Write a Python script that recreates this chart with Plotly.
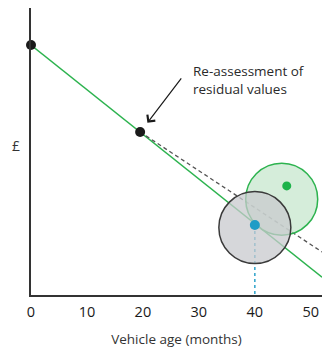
import plotly.graph_objects as go

# Data (arbitrary £ units, vehicle age in months)
planned_age = [0, 52]
planned_value = [87.1, 6.2]
reassessed_age = [19.5, 52]
reassessed_value = [56.8, 15.0]
key_age = [0, 19.5]
key_value = [87.1, 56.8]
estimate_age = [40]
estimate_value = [24.4]
estimate_range_age = [40]
estimate_range_value = [23.5]
market_age = [45.7]
market_value = [38.0]
market_range_age = [44.8]
market_range_value = [33.4]
x_ticks = [0, 10, 20, 30, 40, 50]

FONT = "Open Sans"
GREEN = "#2db34f"

fig = go.Figure()

# planned depreciation line
fig.add_trace(go.Scatter(x=planned_age, y=planned_value, mode="lines",
                         line=dict(color=GREEN, width=1.4), hoverinfo="skip"))
# reassessed line (dashed)
fig.add_trace(go.Scatter(x=reassessed_age, y=reassessed_value, mode="lines",
                         line=dict(color="#555555", width=1.3, dash="4px,3px"), hoverinfo="skip"))
# blue vertical dashed drop line
fig.add_trace(go.Scatter(x=[estimate_age[0], estimate_age[0]], y=[estimate_value[0], 0], mode="lines",
                         line=dict(color="#1f9cc6", width=1.4, dash="3px,3px"), hoverinfo="skip"))
# market value range (green circle)
fig.add_trace(go.Scatter(x=market_range_age, y=market_range_value, mode="markers",
                         marker=dict(size=72, color="rgba(190,228,198,0.65)",
                                     line=dict(color=GREEN, width=1.5)), hoverinfo="skip"))
# estimate range (grey circle)
fig.add_trace(go.Scatter(x=estimate_range_age, y=estimate_range_value, mode="markers",
                         marker=dict(size=72, color="rgba(200,201,205,0.75)",
                                     line=dict(color="#3a3a3a", width=1.5)), hoverinfo="skip"))
# key points
fig.add_trace(go.Scatter(x=key_age, y=key_value, mode="markers", cliponaxis=False,
                         marker=dict(size=10, color="#1a1a1a"), hoverinfo="skip"))
fig.add_trace(go.Scatter(x=market_age, y=market_value, mode="markers",
                         marker=dict(size=9, color="#1db34a"), hoverinfo="skip"))
fig.add_trace(go.Scatter(x=estimate_age, y=estimate_value, mode="markers",
                         marker=dict(size=10, color="#1f9cc6"), hoverinfo="skip"))

fig.add_annotation(x=key_age[1] + 1.3, y=key_value[1] + 3.2, xref="x", yref="y",
                   text="", showarrow=True, arrowhead=4, arrowsize=1.6, arrowwidth=1.2,
                   arrowcolor="#1a1a1a", ax=35, ay=-46, axref="pixel", ayref="pixel")
fig.add_annotation(x=0.55, y=0.82, xref="paper", yref="paper", xanchor="left", yanchor="top",
                   text="Re-assessment of<br>residual values", showarrow=False, align="left",
                   font=dict(family=FONT, size=13.5, color="#2a2a2a"))
fig.add_annotation(x=-0.072, y=0.52, xref="paper", yref="paper", text="£", showarrow=False,
                   font=dict(family=FONT, size=14, color="#333333"))

fig.update_layout(
    width=322, height=348,
    margin=dict(l=31, r=0, t=8, b=53),
    paper_bgcolor="white", plot_bgcolor="white",
    showlegend=False,
    font=dict(family=FONT, size=14, color="#333333"),
    xaxis=dict(range=[0, 52], tickvals=x_ticks, showgrid=False, zeroline=False,
               showline=True, linecolor="#333333", linewidth=1.6,
               ticks="outside", ticklen=3, tickcolor="rgba(0,0,0,0)",
               tickfont=dict(size=14.5, color="#1a1a1a"),
               title=dict(text="Vehicle age (months)", font=dict(size=13.5, color="#333333"), standoff=16),
               fixedrange=True),
    yaxis=dict(range=[0, 100], showticklabels=False, showgrid=False, zeroline=False,
               showline=True, linecolor="#333333", linewidth=1.6, ticks="", fixedrange=True),
)

fig.write_html("out.html", config={"displayModeBar": False},
               post_script="document.body.style.margin='0';document.body.style.overflow='hidden';")
